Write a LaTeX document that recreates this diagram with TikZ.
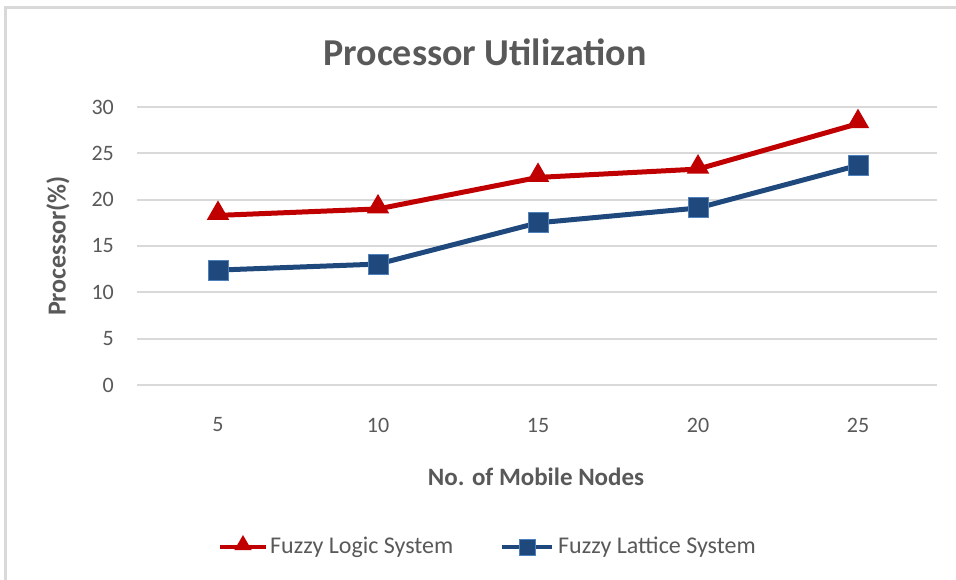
\documentclass[tikz,border=0pt]{standalone}
\usepackage{fontspec}
\setmainfont{Carlito}
\usepackage{xcolor}
\usepackage{tikz}
\usetikzlibrary{shapes.geometric,calc}
\definecolor{txtgray}{HTML}{595959}
\definecolor{gridgray}{HTML}{D9D9D9}
\definecolor{logicred}{HTML}{C00000}
\definecolor{latticeblue}{HTML}{1F497D}
\definecolor{edgeblue}{HTML}{4F81BD}
\tikzset{
  gridline/.style={gridgray, line width=2},
  ticklabel/.style={text=txtgray, font=\fontsize{22}{24}\selectfont, inner sep=0},
  legendlabel/.style={text=txtgray, font=\fontsize{24}{26}\selectfont, inner sep=0},
  axistitle/.style={text=txtgray, font=\bfseries\fontsize{25}{27}\selectfont, inner sep=0},
  logicline/.style={logicred, line width=5, line join=round},
  latticeline/.style={latticeblue, line width=5, line join=round},
  trimark/.style={regular polygon, regular polygon sides=3, fill=logicred, inner sep=0, minimum size=26},
  sqmark/.style={rectangle, fill=latticeblue, draw=edgeblue, line width=1, inner sep=0, minimum size=20}
}

\begin{document}
\begin{tikzpicture}[x=1pt,y=-1pt]
  \useasboundingbox (0,0) rectangle (956,580);
  % chart frame
  \draw[gridgray, line width=3] (5,580) -- (5,8) -- (956,8);
  % title
  \node[text=txtgray, font=\bfseries\fontsize{38}{40}\selectfont, inner sep=0] (title) at (485,52) {Processor Utilization};
  % gridlines and y ticks
  \foreach \v in {0,5,...,30}{
    \draw[gridline] (137,{385-9.267*\v}) -- (937,{385-9.267*\v});
    \node[ticklabel, anchor=east] (y\v) at (114,{385-9.267*\v}) {\v};
  }
  % x ticks
  \foreach \c in {5,10,...,25}
    \node[ticklabel] (x\c) at ({58+32*\c},425) {\c};
  % axis titles
  \node[axistitle] (xtitle) at (536,477) {No. of Mobile Nodes};
  \node[axistitle, font=\bfseries\fontsize{26}{28}\selectfont, rotate=90] (ytitle) at (58,246) {Processor(\%)};
  % data points
  \foreach \n/\c/\a/\b in {1/5/18.3/12.4, 2/10/19.0/13.05, 3/15/22.4/17.5, 4/20/23.3/19.1, 5/25/28.2/23.7}{
    \coordinate (T\n) at ({58+32*\c},{385-9.267*\a});
    \coordinate (S\n) at ({58+32*\c},{385-9.267*\b});
  }
  \draw[logicline] (T1) -- (T2) -- (T3) -- (T4) -- (T5);
  \draw[latticeline] (S1) -- (S2) -- (S3) -- (S4) -- (S5);
  \foreach \n in {1,...,5}{
    \node[trimark] (tm\n) at ($(T\n)+(0,-2)$) {};
    \node[sqmark] (sm\n) at (S\n) {};
  }
  % legend
  \coordinate (la) at (220,547);
  \coordinate (lb) at (266,547);
  \draw[logicline, line width=4] (la) -- (lb);
  \node[trimark, minimum size=20] (lt) at ($(la)!0.5!(lb)+(0,-2)$) {};
  \node[legendlabel, anchor=west] (logic) at (270,547) {Fuzzy Logic System};
  \coordinate (ba) at (502,547);
  \coordinate (bb) at (552,547);
  \draw[latticeline, line width=4] (ba) -- (bb);
  \node[sqmark, minimum size=16] (lq) at ($(ba)!0.5!(bb)$) {};
  \node[legendlabel, anchor=west] (lattice) at (558,547) {Fuzzy Lattice System};
\end{tikzpicture}
\end{document}
